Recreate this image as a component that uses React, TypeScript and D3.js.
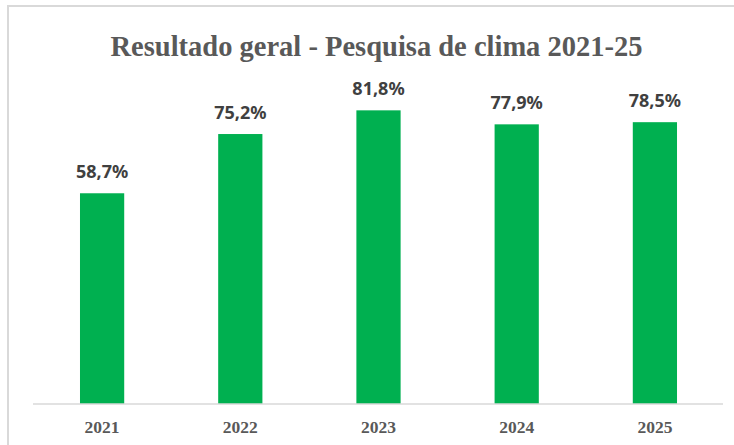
import React from "react";
import * as d3 from "d3";

const years = ["2021", "2022", "2023", "2024", "2025"];
const values = [58.7, 75.2, 81.8, 77.9, 78.5];
const title = "Resultado geral - Pesquisa de clima 2021-25";

const W = 734;
const H = 445;

export default function App() {
  const x = d3.scaleBand<string>().domain(years).range([33, 724]).paddingInner(0.68).paddingOuter(0.34);
  const y = d3.scaleLinear().domain([0, 100]).range([404, 45]);
  const fmt = (v: number) => v.toFixed(1).replace(".", ",") + "%";

  return (
    <svg
      width={W}
      height={H}
      style={{ position: "absolute", left: 0, top: 0, background: "#ffffff" }}
    >
      <rect x={8} y={6} width={W + 20} height={H + 20} fill="#ffffff" stroke="#d9d9d9" strokeWidth={2} />
      <text
        x={376.5}
        y={55.5}
        textAnchor="middle"
        fontFamily="'Liberation Serif', 'Times New Roman', serif"
        fontWeight="bold"
        fontSize={28.5}
        fill="#595959"
      >
        {title}
      </text>
      {years.map((yr, i) => (
        <rect
          key={yr}
          x={x(yr)!}
          y={y(values[i])}
          width={x.bandwidth()}
          height={y(0) - y(values[i])}
          fill="#00B050"
        />
      ))}
      <line x1={33} x2={723} y1={404} y2={404} stroke="#d9d9d9" strokeWidth={1.5} />
      {years.map((yr, i) => (
        <text
          key={"l" + yr}
          x={x(yr)! + x.bandwidth() / 2}
          y={y(values[i]) - 15}
          textAnchor="middle"
          fontFamily="'Noto Sans', 'Open Sans', sans-serif"
          fontWeight="bold"
          fontSize={18}
          fill="#404040"
        >
          {fmt(values[i])}
        </text>
      ))}
      {years.map((yr) => (
        <text
          key={"t" + yr}
          x={x(yr)! + x.bandwidth() / 2}
          y={433}
          textAnchor="middle"
          fontFamily="'Liberation Serif', 'Times New Roman', serif"
          fontWeight="bold"
          fontSize={17.5}
          fill="#595959"
        >
          {yr}
        </text>
      ))}
    </svg>
  );
}
